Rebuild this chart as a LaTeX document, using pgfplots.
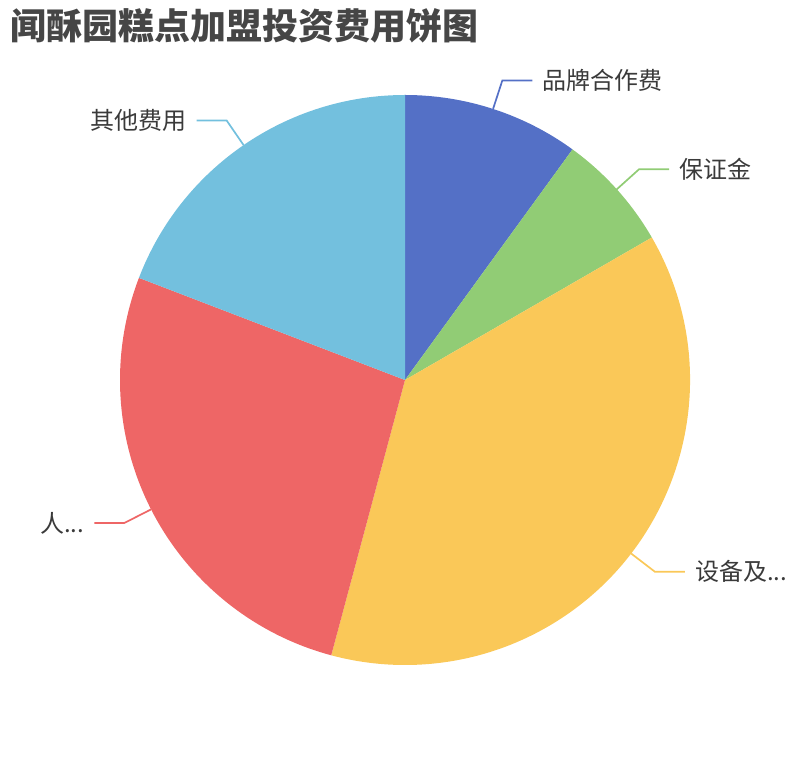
\documentclass[border=0pt]{standalone}
\usepackage{pgfplots}
\usepackage{pgfplotstable}
\usepackage{fontspec}
\pgfplotsset{compat=1.18}
\setmainfont{Noto Sans CJK SC}

\definecolor{pblue}{HTML}{5470C6}
\definecolor{pgreen}{HTML}{91CC75}
\definecolor{pyellow}{HTML}{FAC858}
\definecolor{pred}{HTML}{EE6666}
\definecolor{pcyan}{HTML}{73C0DE}
\definecolor{titlegray}{HTML}{464646}
\definecolor{labelgray}{HTML}{3A3A3A}

% costs (10k yuan), clockwise from 12 o'clock
\pgfplotstableread[col sep=comma]{
label,value,colour
品牌合作费,3,pblue
保证金,2,pgreen
设备及...,11.25,pyellow
人...,8,pred
其他费用,5.75,pcyan
}\costs

% pie geometry in pixel units (1 unit = 1pt)
\def\cx{405}\def\cy{380}\def\rad{285}\def\rout{315}

\pgfmathsetmacro\total{0}
\pgfplotsforeachungrouped \i in {0,...,4}{%
  \pgfplotstablegetelem{\i}{value}\of\costs
  \pgfmathsetmacro\total{\total+\pgfplotsretval}}

\def\cum{0}
\pgfplotsforeachungrouped \i in {0,...,4}{%
  \pgfplotstablegetelem{\i}{value}\of\costs
  \pgfmathsetmacro\a{90-360*\cum/\total}%
  \pgfmathsetmacro\cum{\cum+\pgfplotsretval}%
  \pgfmathsetmacro\b{90-360*\cum/\total}%
  \pgfmathsetmacro\m{(\a+\b)/2}%
  \pgfmathsetmacro\xs{\cx+\rad*cos(\a)}%
  \pgfmathsetmacro\ys{\cy+\rad*sin(\a)}%
  \pgfmathsetmacro\xa{\cx+\rad*cos(\m)}%
  \pgfmathsetmacro\ya{\cy+\rad*sin(\m)}%
  \pgfmathsetmacro\xb{\cx+\rout*cos(\m)}%
  \pgfmathsetmacro\yb{\cy+\rout*sin(\m)}%
  \pgfmathsetmacro\sgn{cos(\m)>0 ? 1 : -1}%
  \pgfmathsetmacro\xc{\xb+30*\sgn}%
  \pgfmathsetmacro\xt{\xc+10*\sgn}%
  \ifdim\sgn pt>0pt \def\anc{west}\else\def\anc{east}\fi
  \expandafter\let\csname sa\i\endcsname\a
  \expandafter\let\csname sb\i\endcsname\b
  \expandafter\let\csname xs\i\endcsname\xs
  \expandafter\let\csname ys\i\endcsname\ys
  \expandafter\let\csname xa\i\endcsname\xa
  \expandafter\let\csname ya\i\endcsname\ya
  \expandafter\let\csname xb\i\endcsname\xb
  \expandafter\let\csname yb\i\endcsname\yb
  \expandafter\let\csname xc\i\endcsname\xc
  \expandafter\let\csname xt\i\endcsname\xt
  \expandafter\let\csname an\i\endcsname\anc
  \pgfplotstablegetelem{\i}{label}\of\costs
  \expandafter\let\csname lb\i\endcsname\pgfplotsretval
  \pgfplotstablegetelem{\i}{colour}\of\costs
  \expandafter\let\csname co\i\endcsname\pgfplotsretval
}

\begin{document}
\begin{tikzpicture}
\begin{axis}[
    width=810pt, height=760pt,
    scale only axis,
    xmin=0, xmax=810,
    ymin=0, ymax=760,
    enlargelimits=false,
    hide axis,
    clip=false,
]
% keep the whole canvas in the page
\path (rel axis cs:0,0) rectangle (rel axis cs:1,1);
\pgfplotsinvokeforeach{0,...,4}{
  \fill[\csname co#1\endcsname]
    (axis cs:\cx,\cy) -- (axis cs:\csname xs#1\endcsname,\csname ys#1\endcsname)
    arc[start angle=\csname sa#1\endcsname, end angle=\csname sb#1\endcsname, radius=\rad pt]
    -- cycle;
  \draw[\csname co#1\endcsname, line width=1.7pt]
    (axis cs:\csname xa#1\endcsname,\csname ya#1\endcsname)
    -- (axis cs:\csname xb#1\endcsname,\csname yb#1\endcsname)
    -- (axis cs:\csname xc#1\endcsname,\csname yb#1\endcsname);
  \node[anchor=\csname an#1\endcsname, inner sep=0pt, text=labelgray,
        font=\fontsize{24}{28}\selectfont]
    at (axis cs:\csname xt#1\endcsname,\csname yb#1\endcsname) {\csname lb#1\endcsname};
}
\node[anchor=west, inner sep=0pt, text=titlegray,
      font=\fontsize{36}{40}\selectfont\bfseries]
  at (axis cs:10,734) {闻酥园糕点加盟投资费用饼图};
\end{axis}
\end{tikzpicture}
\end{document}
